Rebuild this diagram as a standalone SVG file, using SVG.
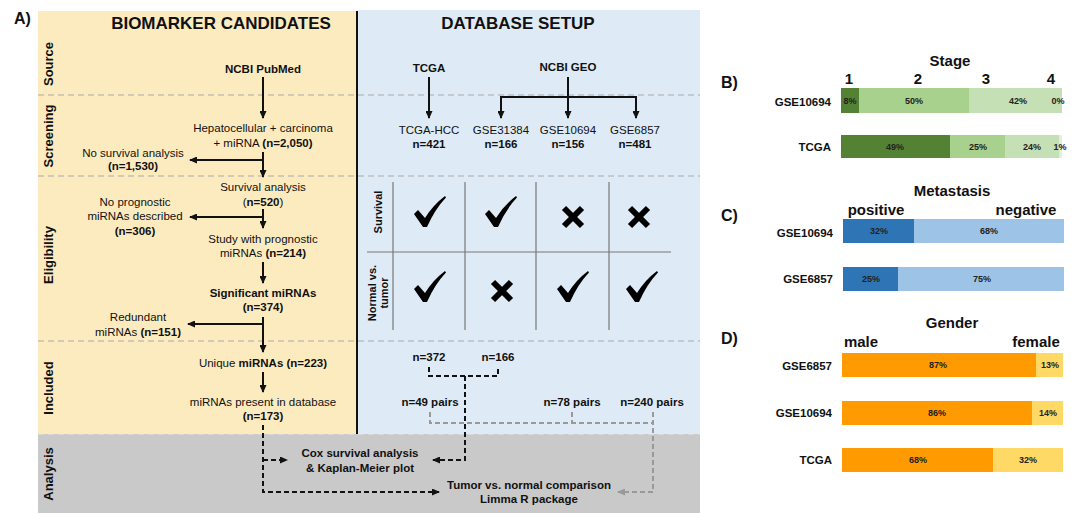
<svg xmlns="http://www.w3.org/2000/svg" xmlns:xlink="http://www.w3.org/1999/xlink" width="1077" height="513" viewBox="0 0 1077 513">
<style>
text{font-family:"Liberation Sans",Arial,sans-serif;fill:#111}
.t{font-size:11.5px;text-anchor:middle}
.b{font-weight:bold}
.h{font-size:17px;font-weight:bold;text-anchor:middle}
.lab{font-size:16px;font-weight:bold}
.row{font-size:13px;font-weight:bold;text-anchor:middle}
.gl{font-size:11px;font-weight:bold;text-anchor:middle}
.ct{font-size:15px;font-weight:bold;text-anchor:middle}
.rl{font-size:11.5px;font-weight:bold;text-anchor:end}
.pc{font-size:9px;font-weight:bold;text-anchor:middle;fill:#222}
.ar{stroke:#111;stroke-width:2;fill:none}
.dk{stroke:#111;stroke-width:2;fill:none;stroke-dasharray:5,3}
.dg{stroke:#999;stroke-width:2;fill:none;stroke-dasharray:5,3}
.sep{stroke:#aaa;stroke-width:1.2;stroke-dasharray:6,4;fill:none}
.grid{stroke:#777;stroke-width:1.2}
</style>
<defs>
<marker id="ah" markerWidth="8" markerHeight="7" refX="7" refY="3.5" orient="auto" markerUnits="userSpaceOnUse"><path d="M0,0 L8,3.5 L0,7 z" fill="#111"/></marker>
<marker id="ahg" markerWidth="8" markerHeight="7" refX="7" refY="3.5" orient="auto" markerUnits="userSpaceOnUse"><path d="M0,0 L8,3.5 L0,7 z" fill="#999"/></marker>
<path id="chk" d="M0,18 L4,14 L11,22 Q19,9 31,0 L32,1.5 Q21,13 13,31 L9,31 Z" fill="#000"/>
<g id="xm" stroke="#000" stroke-width="6"><line x1="-9" y1="-9" x2="9" y2="9"/><line x1="9" y1="-9" x2="-9" y2="9"/></g>
</defs>

<!-- backgrounds -->
<rect x="38" y="11" width="319" height="423" fill="#fdebc0"/>
<rect x="357" y="10" width="343" height="424" fill="#deebf7"/>
<rect x="38" y="434" width="662" height="79" fill="#c9c9c9"/>
<line x1="357" y1="11" x2="357" y2="434" stroke="#111" stroke-width="2"/>
<g id="separators">
<line class="sep" x1="38" y1="95" x2="700" y2="95"/>
<line class="sep" x1="38" y1="176" x2="700" y2="176"/>
<line class="sep" x1="38" y1="341" x2="700" y2="341"/>
<line x1="38" y1="434" x2="700" y2="434" stroke="#e8e8e8" stroke-width="1.2" stroke-dasharray="6,4"/>
</g>

<text class="lab" x="14" y="24">A)</text>
<text class="h" x="221" y="29">BIOMARKER CANDIDATES</text>
<text class="h" x="518" y="29">DATABASE SETUP</text>

<g id="rowlabels">
<text class="row" transform="translate(53,64) rotate(-90)">Source</text>
<text class="row" transform="translate(53,136) rotate(-90)">Screening</text>
<text class="row" transform="translate(53,255) rotate(-90)">Eligibility</text>
<text class="row" transform="translate(53,388) rotate(-90)">Included</text>
<text class="row" transform="translate(53,474) rotate(-90)">Analysis</text>
</g>

<!-- left flow nodes -->
<g id="pubmed"><text class="t b" x="263" y="73">NCBI PubMed</text></g>
<g id="hcc"><text class="t" x="263" y="132">Hepatocellular + carcinoma</text><text class="t" x="263" y="147">+ miRNA <tspan class="b">(n=2,050)</tspan></text></g>
<g id="nosurv"><text class="t" x="133" y="157">No survival analysis</text><text class="t b" x="133" y="170">(n=1,530)</text></g>
<g id="surv"><text class="t" x="263" y="191">Survival analysis</text><text class="t" x="263" y="206">(<tspan class="b">n=520</tspan>)</text></g>
<g id="noprog"><text class="t" x="135" y="206">No prognostic</text><text class="t" x="135" y="220">miRNAs described</text><text class="t b" x="135" y="235">(n=306)</text></g>
<g id="study"><text class="t" x="263" y="243">Study with prognostic</text><text class="t" x="263" y="257">miRNAs <tspan class="b">(n=214)</tspan></text></g>
<g id="signif"><text class="t b" x="263" y="297">Significant miRNAs</text><text class="t b" x="263" y="311">(n=374)</text></g>
<g id="redund"><text class="t" x="138" y="321">Redundant</text><text class="t" x="138" y="336">miRNAs <tspan class="b">(n=151)</tspan></text></g>
<g id="unique"><text class="t" x="263" y="367">Unique <tspan class="b">miRNAs</tspan> <tspan class="b">(n=223)</tspan></text></g>
<g id="present"><text class="t" x="263" y="406">miRNAs present in database</text><text class="t b" x="263" y="420">(n=173)</text></g>

<!-- database nodes -->
<g id="tcga"><text class="t b" x="429" y="72">TCGA</text></g>
<g id="geo"><text class="t b" x="568" y="71">NCBI GEO</text></g>
<g id="tcgahcc"><text class="t" x="429" y="134">TCGA-HCC</text><text class="t b" x="429" y="148">n=421</text></g>
<g id="gse31384"><text class="t" x="501" y="134">GSE31384</text><text class="t b" x="501" y="148">n=166</text></g>
<g id="gse10694"><text class="t" x="568" y="134">GSE10694</text><text class="t b" x="568" y="148">n=156</text></g>
<g id="gse6857"><text class="t" x="635" y="134">GSE6857</text><text class="t b" x="635" y="148">n=481</text></g>

<!-- grid -->
<g id="grid">
<line class="grid" x1="393" y1="182" x2="393" y2="330"/>
<line class="grid" x1="465" y1="182" x2="465" y2="330"/>
<line class="grid" x1="536" y1="182" x2="536" y2="330"/>
<line class="grid" x1="609" y1="182" x2="609" y2="330"/>
<line class="grid" x1="367" y1="252" x2="671" y2="252"/>
<text class="gl" transform="translate(382,212) rotate(-90)">Survival</text>
<text class="gl" transform="translate(376,293) rotate(-90)">Normal vs.</text>
<text class="gl" transform="translate(388,293) rotate(-90)">tumor</text>
<use xlink:href="#chk" x="414" y="196"/>
<use xlink:href="#chk" x="485" y="196"/>
<use xlink:href="#xm" x="573" y="217"/>
<use xlink:href="#xm" x="639" y="217"/>
<use xlink:href="#chk" x="414" y="271"/>
<use xlink:href="#xm" x="502" y="291"/>
<use xlink:href="#chk" x="557" y="271"/>
<use xlink:href="#chk" x="626" y="271"/>
</g>

<g id="counts">
<text class="t b" x="429" y="361">n=372</text>
<text class="t b" x="498" y="361">n=166</text>
<text class="t b" x="430" y="406">n=49 pairs</text>
<text class="t b" x="572" y="406">n=78 pairs</text>
<text class="t b" x="652" y="406">n=240 pairs</text>
</g>

<g id="cox"><text class="t b" x="360" y="457">Cox survival analysis</text><text class="t b" x="360" y="472">&amp; Kaplan-Meier plot</text></g>
<g id="limma"><text class="t b" x="529" y="489">Tumor vs. normal comparison</text><text class="t b" x="529" y="503">Limma R package</text></g>

<!-- connectors -->
<g id="connectors">
<line class="ar" x1="263" y1="77" x2="263" y2="118" marker-end="url(#ah)"/>
<line class="ar" x1="263" y1="152" x2="263" y2="177" marker-end="url(#ah)"/>
<line class="ar" x1="263" y1="160" x2="190" y2="160" marker-end="url(#ah)"/>
<line class="ar" x1="263" y1="209" x2="263" y2="228" marker-end="url(#ah)"/>
<line class="ar" x1="263" y1="217" x2="190" y2="217" marker-end="url(#ah)"/>
<line class="ar" x1="263" y1="262" x2="263" y2="283" marker-end="url(#ah)"/>
<line class="ar" x1="263" y1="317" x2="263" y2="352" marker-end="url(#ah)"/>
<line class="ar" x1="263" y1="324" x2="188" y2="324" marker-end="url(#ah)"/>
<line class="ar" x1="263" y1="372" x2="263" y2="392" marker-end="url(#ah)"/>

<line class="ar" x1="429" y1="77" x2="429" y2="118" marker-end="url(#ah)"/>
<line class="ar" x1="568" y1="77" x2="568" y2="118" marker-end="url(#ah)"/>
<line class="ar" x1="500" y1="97" x2="637" y2="97"/>
<line class="ar" x1="501" y1="96" x2="501" y2="118" marker-end="url(#ah)"/>
<line class="ar" x1="636" y1="96" x2="636" y2="118" marker-end="url(#ah)"/>

<polyline class="dk" points="263,425 263,492 439,492" marker-end="url(#ah)"/>
<line class="dk" x1="263" y1="460" x2="287" y2="460" marker-end="url(#ah)"/>
<polyline class="dk" points="429,367 429,376 498,376 498,367"/>
<polyline class="dk" points="465,376 465,460 433,460" marker-end="url(#ah)"/>

<polyline class="dg" points="430,412 430,423 653,423"/>
<line class="dg" x1="572" y1="412" x2="572" y2="423"/>
<polyline class="dg" points="653,412 653,492 618,492" marker-end="url(#ahg)"/>
</g>

<!-- B) Stage -->
<g id="panelB">
<text class="lab" x="721" y="88">B)</text>
<text class="ct" x="950" y="66">Stage</text>
<text class="ct" x="849" y="84">1</text>
<text class="ct" x="918" y="84">2</text>
<text class="ct" x="986" y="84">3</text>
<text class="ct" x="1051" y="84">4</text>
<text class="rl" x="831" y="106">GSE10694</text>
<text class="rl" x="831" y="151">TCGA</text>
<rect x="841" y="88" width="18" height="25" fill="#548235"/>
<rect x="859" y="88" width="110" height="25" fill="#a9d18e"/>
<rect x="969" y="88" width="93" height="25" fill="#c5e0b4"/>
<rect x="841" y="135" width="109" height="23" fill="#548235"/>
<rect x="950" y="135" width="55" height="23" fill="#a9d18e"/>
<rect x="1005" y="135" width="54" height="23" fill="#c5e0b4"/>
<rect x="1059" y="135" width="3" height="23" fill="#e2f0d9"/>
<text class="pc" x="850" y="104">8%</text>
<text class="pc" x="914" y="104">50%</text>
<text class="pc" x="1018" y="104">42%</text>
<text class="pc" x="1058" y="104">0%</text>
<text class="pc" x="895" y="150">49%</text>
<text class="pc" x="978" y="150">25%</text>
<text class="pc" x="1032" y="150">24%</text>
<text class="pc" x="1060" y="150">1%</text>
</g>

<!-- C) Metastasis -->
<g id="panelC">
<text class="lab" x="721" y="221">C)</text>
<text class="ct" x="952" y="196">Metastasis</text>
<text class="ct" x="876" y="215">positive</text>
<text class="ct" x="1026" y="215">negative</text>
<text class="rl" x="833" y="237">GSE10694</text>
<text class="rl" x="833" y="283">GSE6857</text>
<rect x="843" y="219" width="71" height="24" fill="#2e75b6"/>
<rect x="914" y="219" width="150" height="24" fill="#9dc3e6"/>
<rect x="843" y="267" width="55" height="24" fill="#2e75b6"/>
<rect x="898" y="267" width="166" height="24" fill="#9dc3e6"/>
<text class="pc" x="879" y="234">32%</text>
<text class="pc" x="989" y="234">68%</text>
<text class="pc" x="871" y="282">25%</text>
<text class="pc" x="982" y="282">75%</text>
</g>

<!-- D) Gender -->
<g id="panelD">
<text class="lab" x="721" y="344">D)</text>
<text class="ct" x="952" y="328">Gender</text>
<text class="ct" x="861" y="347">male</text>
<text class="ct" x="1036" y="347">female</text>
<text class="rl" x="832" y="370">GSE6857</text>
<text class="rl" x="832" y="417">GSE10694</text>
<text class="rl" x="832" y="464">TCGA</text>
<rect x="842" y="353" width="194" height="24" fill="#ff9a00"/>
<rect x="1036" y="353" width="27" height="24" fill="#ffd966"/>
<rect x="842" y="401" width="190" height="24" fill="#ff9a00"/>
<rect x="1032" y="401" width="31" height="24" fill="#ffd966"/>
<rect x="842" y="448" width="151" height="24" fill="#ff9a00"/>
<rect x="993" y="448" width="70" height="24" fill="#ffd966"/>
<text class="pc" x="938" y="368">87%</text>
<text class="pc" x="1050" y="368">13%</text>
<text class="pc" x="937" y="416">86%</text>
<text class="pc" x="1048" y="416">14%</text>
<text class="pc" x="918" y="463">68%</text>
<text class="pc" x="1028" y="463">32%</text>
</g>
</svg>
